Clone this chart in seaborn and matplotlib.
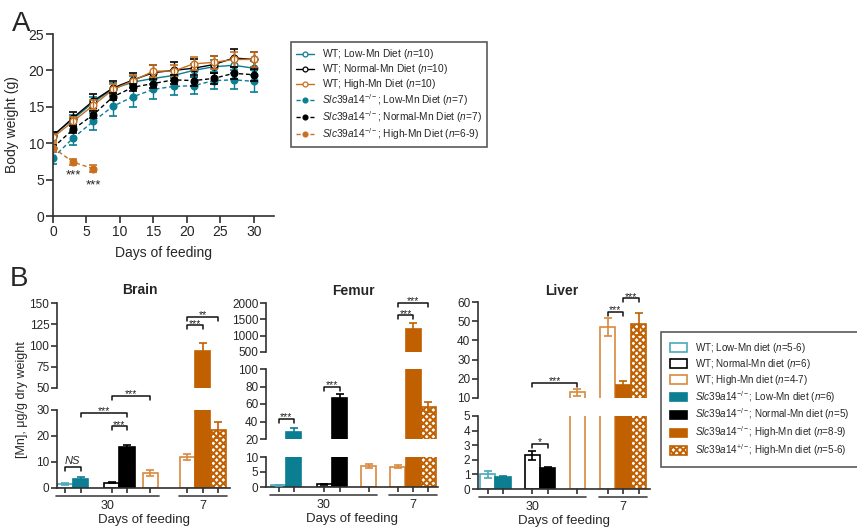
import numpy as np
import pandas as pd
import matplotlib
matplotlib.use('Agg')
import matplotlib.pyplot as plt
import seaborn as sns
from matplotlib.patches import Patch
from matplotlib.lines import Line2D

# ---- panel A data (body weight, g) ----
days = [0, 3, 6, 9, 12, 15, 18, 21, 24, 27, 30]
wt_low = [11.1, 13.3, 15.6, 17.5, 18.4, 18.9, 19.3, 20.0, 20.5, 20.7, 20.3]
wt_low_err = [0.5, 0.6, 0.7, 0.8, 0.8, 0.8, 0.8, 0.9, 0.9, 1.0, 1.0]
wt_norm = [11.0, 13.5, 15.8, 17.6, 18.7, 19.7, 20.0, 20.3, 20.8, 21.7, 21.5]
wt_norm_err = [0.6, 0.8, 1.0, 1.0, 1.0, 1.0, 1.1, 1.2, 1.2, 1.3, 1.0]
wt_high = [10.8, 13.0, 15.2, 17.4, 18.6, 19.9, 19.9, 20.9, 21.1, 21.5, 21.5]
wt_high_err = [0.5, 0.6, 0.7, 0.8, 0.8, 0.8, 0.8, 0.9, 0.9, 1.0, 1.0]
ko_low = [8.0, 10.7, 13.0, 15.1, 16.4, 17.4, 17.8, 17.9, 18.6, 18.7, 18.5]
ko_low_err = [0.8, 1.0, 1.2, 1.4, 1.4, 1.3, 1.2, 1.2, 1.2, 1.3, 1.5]
ko_norm = [9.4, 11.9, 13.9, 16.4, 17.7, 18.2, 18.7, 18.6, 18.9, 19.6, 19.4]
ko_norm_err = [0.4, 0.5, 0.5, 0.5, 0.5, 0.6, 0.6, 0.7, 0.7, 0.8, 0.8]
ko_high_days = [0, 3, 6]
ko_high = [9.4, 7.4, 6.5]
ko_high_err = [0.6, 0.4, 0.5]

# ---- panel B data ([Mn], ug/g dry weight) ----
# order: WT low, KO low, WT normal, KO normal, WT high (30 d), WT high, KO high, Het high (7 d)
brain_mean = [1.6, 3.4, 2.0, 15.9, 5.9, 11.8, 94, 22.2]
brain_err = [0.3, 0.9, 0.2, 0.8, 1.2, 1.2, 9.5, 3.0]
femur_mean = [0.6, 28, 0.9, 67, 7.0, 6.8, 1190, 56.5]
femur_err = [0.1, 5, 0.2, 4, 0.6, 0.4, 210, 5.5]
liver_mean = [1.0, 0.8, 2.3, 1.42, 13.1, 46.9, 17.0, 48.5]
liver_err = [0.25, 0.12, 0.32, 0.08, 1.8, 4.6, 1.9, 5.7]

legend_a = ['WT; Low-Mn Diet ($\\mathit{n}$=10)',
            'WT; Normal-Mn Diet ($\\mathit{n}$=10)',
            'WT; High-Mn Diet ($\\mathit{n}$=10)',
            '$\\mathit{Slc39a14}^{-/-}$; Low-Mn Diet ($\\mathit{n}$=7)',
            '$\\mathit{Slc39a14}^{-/-}$; Normal-Mn Diet ($\\mathit{n}$=7)',
            '$\\mathit{Slc39a14}^{-/-}$; High-Mn Diet ($\\mathit{n}$=6-9)']
legend_b = ['WT; Low-Mn diet ($\\mathit{n}$=5-6)',
            'WT; Normal-Mn diet ($\\mathit{n}$=6)',
            'WT; High-Mn diet ($\\mathit{n}$=4-7)',
            '$\\mathit{Slc39a14}^{-/-}$; Low-Mn diet ($\\mathit{n}$=6)',
            '$\\mathit{Slc39a14}^{-/-}$; Normal-Mn diet ($\\mathit{n}$=5)',
            '$\\mathit{Slc39a14}^{-/-}$; High-Mn diet ($\\mathit{n}$=8-9)',
            '$\\mathit{Slc39a14}^{+/-}$; High-Mn diet ($\\mathit{n}$=5-6)']

sns.set_theme(style='ticks')
plt.rcParams['font.family'] = ['Liberation Sans', 'DejaVu Sans']
plt.rcParams['mathtext.fontset'] = 'custom'
plt.rcParams['mathtext.rm'] = 'Liberation Sans'
plt.rcParams['mathtext.it'] = 'Liberation Sans:italic'
plt.rcParams['hatch.linewidth'] = 1.4

TEAL = '#0b7e92'
TEAL_L = '#4aa9ba'
ORANGE = '#c06000'
ORANGE_L = '#d88a40'
SPINE = '#303030'

W, H = 857, 527
fig = plt.figure(figsize=(W / 100, H / 100), dpi=100)


def px_axes(x0, x1, y0, y1):
    return fig.add_axes([x0 / W, 1 - y1 / H, (x1 - x0) / W, (y1 - y0) / H])


def style_axes(ax, bottom=True, size=8.5):
    sns.despine(ax=ax, bottom=not bottom)
    for s in ['left', 'bottom']:
        ax.spines[s].set_linewidth(1.2)
        ax.spines[s].set_color(SPINE)
    ax.tick_params(axis='both', direction='out', length=4, width=1.2, color=SPINE,
                   labelsize=size, pad=1.5)
    if not bottom:
        ax.tick_params(axis='x', bottom=False, labelbottom=False)
    ax.set_facecolor('none')


# ================= panel A =================
axA = px_axes(53, 274, 34, 216)
series = [
    (days, wt_low, wt_low_err, TEAL, '-', 'white'),
    (days, wt_norm, wt_norm_err, 'black', '-', 'white'),
    (days, wt_high, wt_high_err, '#c87020', '-', 'white'),
    (days, ko_low, ko_low_err, TEAL, (0, (3, 2)), TEAL),
    (days, ko_norm, ko_norm_err, 'black', (0, (3, 2)), 'black'),
    (ko_high_days, ko_high, ko_high_err, '#c87020', (0, (3, 2)), '#c87020'),
]
handles_a = []
for (d, vals, errs, col, ls, mfc), lab in zip(series, legend_a):
    sns.lineplot(x=d, y=vals, ax=axA, color=col, linestyle=ls, linewidth=1.0,
                 marker='o', markersize=4.8, markerfacecolor=mfc, markeredgecolor=col,
                 markeredgewidth=1.0, errorbar=None, legend=False)
    axA.errorbar(d, vals, yerr=errs, fmt='none', ecolor=col, elinewidth=1.0,
                 capsize=2.6, capthick=1.2)
    handles_a.append(Line2D([], [], color=col, linestyle=ls, linewidth=1.0, marker='o',
                            markersize=3.5, markerfacecolor=mfc, markeredgecolor=col,
                            markeredgewidth=0.9, label=lab))

axA.set_xlim(0, 33)
axA.set_ylim(0, 25)
axA.set_xticks([0, 5, 10, 15, 20, 25, 30])
axA.set_yticks([0, 5, 10, 15, 20, 25])
style_axes(axA, size=10)
axA.tick_params(length=5)
axA.set_xlabel('Days of feeding', fontsize=10)
axA.set_ylabel('Body weight (g)', fontsize=10)
axA.xaxis.set_label_coords(0.5, -0.165)
axA.yaxis.set_label_coords(-0.155, 0.5)
axA.text(3, 5.6, '***', ha='center', va='center', fontsize=9.5, color='#222222')
axA.text(6, 4.2, '***', ha='center', va='center', fontsize=9.5, color='#222222')

legA = fig.legend(handles=handles_a, loc='upper left', bbox_to_anchor=(291 / W, 1 - 42 / H),
                  bbox_transform=fig.transFigure, borderaxespad=0, fontsize=7.3,
                  frameon=True, fancybox=False, handlelength=1.8, handletextpad=0.8,
                  labelspacing=0.1, borderpad=0.5)
legA.get_frame().set_edgecolor(SPINE)
legA.get_frame().set_linewidth(1.2)

fig.text(21 / W, 1 - 24 / H, 'A', fontsize=20, ha='center', va='center')

# ================= panel B =================
bar_face = ['white', TEAL, 'white', 'black', 'white', 'white', ORANGE, 'white']
bar_edge = [TEAL_L, TEAL, 'black', 'black', ORANGE_L, ORANGE_L, ORANGE, ORANGE]
bar_hatch = ['', '', '', '', '', '', '', 'xxxxx']


def draw_organ(title, pos, means, errs, x_px, center_px, unit, segments, brackets, title_px):
    xlim = ((x_px[0] - center_px) / unit, (x_px[1] - center_px) / unit)
    axes = []
    for k, (lo, hi, ticks, top_px, bot_px) in enumerate(segments):
        ax = px_axes(x_px[0], x_px[1], top_px, bot_px)
        df = pd.DataFrame({'pos': pos, 'mean': means})
        sns.barplot(data=df, x='pos', y='mean', native_scale=True, width=0.97,
                    errorbar=None, ax=ax, legend=False)
        for patch, fc, ec, hatch in zip(ax.patches, bar_face, bar_edge, bar_hatch):
            patch.set_facecolor(fc)
            patch.set_edgecolor(ec)
            patch.set_hatch(hatch)
            patch.set_linewidth(1.2)
        for p, m, e, ec in zip(pos, means, errs, bar_edge):
            ax.errorbar(p, m, yerr=e, fmt='none', ecolor=ec, elinewidth=1.2,
                        capsize=3.2, capthick=1.2, zorder=4)
        ax.set(xlabel='', ylabel='')
        ax.set_xlim(*xlim)
        ax.set_ylim(lo, hi)
        ax.set_yticks(ticks)
        last = k == len(segments) - 1
        style_axes(ax, bottom=last)
        if last:
            ax.set_xticks(pos)
            ax.set_xticklabels([])
            ax.tick_params(axis='x', length=3.5)
        axes.append(ax)

    # significance brackets
    for seg, i, j, y, txt in brackets:
        ax = axes[seg]
        lo, hi, _, top_px, bot_px = segments[seg]
        per_px = (hi - lo) / (bot_px - top_px)
        drop = 4 * per_px
        ax.plot([pos[i], pos[i], pos[j], pos[j]], [y - drop, y, y, y - drop],
                color='#111111', lw=1.1, clip_on=False, zorder=5)
        if txt == 'NS':
            ax.text((pos[i] + pos[j]) / 2, y + 1 * per_px, txt, ha='center', va='bottom',
                    fontsize=8, style='italic', clip_on=False)
        else:
            ax.text((pos[i] + pos[j]) / 2, y + 1.5 * per_px, txt, ha='center', va='center',
                    fontsize=7.5, color='#222222', clip_on=False)

    # group lines under the x axis
    ax = axes[-1]
    seg_h = segments[-1][4] - segments[-1][3]
    tr = ax.get_xaxis_transform()
    for a, b, lab in [(pos[0] - 0.55, pos[4] + 0.55, '30'), (pos[5] - 0.55, pos[7] + 0.55, '7')]:
        ax.plot([a, b], [-8 / seg_h, -8 / seg_h], transform=tr, color='#444444', lw=1.2,
                clip_on=False)
        ax.text((a + b) / 2, -18 / seg_h, lab, transform=tr, ha='center', va='center',
                fontsize=9)
    ax.text(np.mean(xlim), -32 / seg_h, 'Days of feeding', transform=tr, ha='center',
            va='center', fontsize=9.5)
    fig.text(title_px[0] / W, 1 - title_px[1] / H, title, ha='center', va='center',
             fontsize=10, fontweight='bold')


draw_organ('Brain', [0, 1, 3, 4, 5.5, 7.9, 8.9, 9.9], brain_mean, brain_err,
           (57, 230), 65, 15.5,
           [(50, 150, [50, 75, 100, 125, 150], 303, 388),
            (0, 30, [0, 10, 20, 30], 410, 488)],
           [(1, 0, 1, 8, 'NS'), (1, 2, 3, 23.7, '***'), (1, 1, 3, 29.0, '***'),
            (0, 2, 4, 41, '***'), (0, 5, 6, 123.7, '***'), (0, 5, 7, 134, '**')],
           (140, 290))

draw_organ('Femur', [0, 1, 3, 4, 5.9, 7.8, 8.8, 9.8], femur_mean, femur_err,
           (266, 438), 278.5, 15.3,
           [(500, 2000, [500, 1000, 1500, 2000], 303, 352),
            (20, 100, [20, 40, 60, 80, 100], 369, 439),
            (0, 10, [0, 5, 10], 457, 487)],
           [(1, 0, 1, 43, '***'), (1, 2, 3, 80, '***'), (0, 5, 6, 1620, '***'),
            (0, 5, 7, 2000, '***')],
           (353, 291))

draw_organ('Liver', [0, 1, 2.9, 3.9, 5.8, 7.75, 8.75, 9.75], liver_mean, liver_err,
           (478, 650), 487.5, 15.5,
           [(10, 60, [10, 20, 30, 40, 50, 60], 302, 398),
            (0, 5, [0, 1, 2, 3, 4, 5], 416, 489)],
           [(1, 2, 3, 3.1, '*'), (0, 2, 4, 18, '***'), (0, 5, 6, 55, '***'),
            (0, 6, 7, 62, '***')],
           (562, 291))

fig.text(22 / W, 1 - 400 / H, '[Mn], μg/g dry weight', rotation=90, ha='center',
         va='center', fontsize=9)
fig.text(19 / W, 1 - 279 / H, 'B', fontsize=20, ha='center', va='center')

handles_b = [Patch(facecolor=fc, edgecolor=ec, hatch=h, linewidth=1.2, label=lab)
             for fc, ec, h, lab in zip(['white', 'white', 'white', TEAL, 'black', ORANGE, 'white'],
                                       [TEAL_L, 'black', ORANGE_L, TEAL, 'black', ORANGE, ORANGE],
                                       ['', '', '', '', '', '', 'xxxxx'], legend_b)]
legB = fig.legend(handles=handles_b, loc='upper left', bbox_to_anchor=(661 / W, 1 - 332 / H),
                  bbox_transform=fig.transFigure, borderaxespad=0, fontsize=7.1,
                  frameon=True, fancybox=False, handlelength=1.7, handleheight=0.9,
                  handletextpad=0.8, labelspacing=0.2, borderpad=0.9)
legB.get_frame().set_edgecolor(SPINE)
legB.get_frame().set_linewidth(1.2)

fig.savefig('out.png', dpi=100)
